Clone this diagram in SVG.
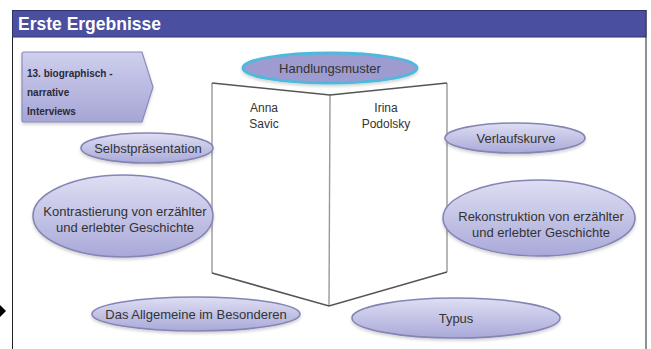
<svg xmlns="http://www.w3.org/2000/svg" width="651" height="349" viewBox="0 0 651 349">
<defs>
<linearGradient id="gEll" x1="0" y1="0" x2="0" y2="1">
<stop offset="0" stop-color="#dedef3"/>
<stop offset="1" stop-color="#a9a9d9"/>
</linearGradient>
<linearGradient id="gBox" x1="0" y1="0" x2="0" y2="1">
<stop offset="0" stop-color="#cfcfee"/>
<stop offset="1" stop-color="#a6a6d6"/>
</linearGradient>
<filter id="sh" x="-20%" y="-20%" width="140%" height="150%">
<feDropShadow dx="0" dy="2" stdDeviation="1.5" flood-color="#000" flood-opacity="0.18"/>
</filter>
<style>
.ell{fill:url(#gEll);stroke:#8585b5;stroke-width:1.6;filter:url(#sh)}
.t{font-family:"Liberation Sans",Arial,sans-serif;font-size:13px;fill:#333;text-anchor:middle}
.tb{font-family:"Liberation Sans",Arial,sans-serif;font-size:10px;font-weight:bold;fill:#2a2a3a}
.name{font-family:"Liberation Sans",Arial,sans-serif;font-size:12px;fill:#333;text-anchor:middle}
.edge{stroke:#555;stroke-width:1.6;fill:none}
.vert{stroke:#999;stroke-width:1.4;fill:none}
</style>
</defs>
<rect x="0" y="0" width="651" height="349" fill="#fff"/>
<rect x="12.5" y="10.5" width="633.5" height="345" fill="#fff" stroke="#222" stroke-width="1"/>
<rect x="12.5" y="10.5" width="633.5" height="26.5" fill="#4a4f9f" stroke="#2e326e" stroke-width="1"/>
<text x="18" y="30" font-family="'Liberation Sans',Arial,sans-serif" font-size="17.5" font-weight="bold" fill="#fff">Erste Ergebnisse</text>
<polygon points="0,305 6,311 0,317" fill="#000"/>

<g id="interviews">
<path d="M24,52 L142,52 L153,87 L142,122 L24,122 Q22,122 22,120 L22,54 Q22,52 24,52 Z" fill="url(#gBox)" stroke="#8a8abd" stroke-width="1.2" filter="url(#sh)"/>
<text class="tb" x="27" y="77">13. biographisch -</text>
<text class="tb" x="27" y="96">narrative</text>
<text class="tb" x="27" y="115">Interviews</text>
</g>

<g id="book">
<line class="vert" x1="212" y1="83" x2="212" y2="273"/>
<line class="vert" x1="447" y1="83" x2="447" y2="272"/>
<line class="vert" x1="330" y1="95" x2="329" y2="306"/>
<polyline class="edge" points="212,83 330,95 447,83"/>
<polyline class="edge" points="212,273 329,306 447,272"/>
</g>

<g id="anna"><text class="name" x="264" y="112">Anna</text><text class="name" x="264" y="128">Savic</text></g>
<g id="irina"><text class="name" x="386" y="112">Irina</text><text class="name" x="386" y="128">Podolsky</text></g>

<g id="handlungsmuster">
<ellipse cx="330" cy="68" rx="87" ry="15" fill="#9d9bd0" stroke="#4fb9dd" stroke-width="3" filter="url(#sh)"/>
<text class="t" x="330" y="72.5">Handlungsmuster</text>
</g>

<g id="selbstpraesentation">
<ellipse class="ell" cx="147" cy="148" rx="66" ry="15"/>
<text class="t" x="148" y="152.5">Selbstpräsentation</text>
</g>

<g id="verlaufskurve">
<ellipse class="ell" cx="515" cy="138" rx="70" ry="15"/>
<text class="t" x="516" y="142.5">Verlaufskurve</text>
</g>

<g id="kontrastierung">
<ellipse class="ell" cx="123" cy="216" rx="90" ry="41"/>
<text class="t" x="125" y="216">Kontrastierung von erzählter</text>
<text class="t" x="125" y="232">und erlebter Geschichte</text>
</g>

<g id="rekonstruktion">
<ellipse class="ell" cx="539" cy="218" rx="96" ry="38"/>
<text class="t" x="541" y="221">Rekonstruktion von erzählter</text>
<text class="t" x="541" y="237">und erlebter Geschichte</text>
</g>

<g id="allgemeine">
<ellipse class="ell" cx="196" cy="314" rx="104" ry="17"/>
<text class="t" x="196" y="318.5">Das Allgemeine im Besonderen</text>
</g>

<g id="typus">
<ellipse class="ell" cx="456" cy="318" rx="104" ry="20"/>
<text class="t" x="456" y="323">Typus</text>
</g>

<g id="connectors"/>
</svg>
